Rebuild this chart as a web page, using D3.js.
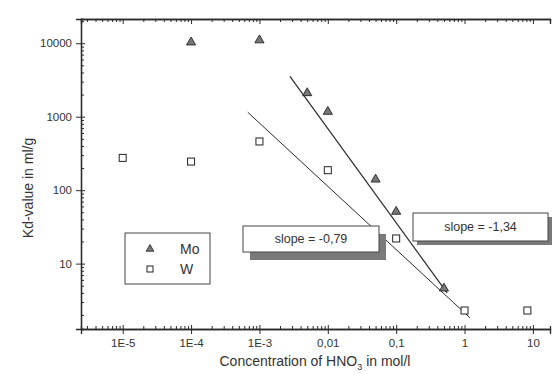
<!DOCTYPE html>
<html><head><meta charset="utf-8">
<script src="https://cdn.jsdelivr.net/npm/d3@7"></script>
<style>
html,body{margin:0;padding:0;background:#fff;}
svg{display:block;font-family:"Liberation Sans",Arial,sans-serif;}
</style></head>
<body>
<div id="chart"></div>
<script>
// ---- data ----
const moConc = [1e-4, 1e-3, 0.005, 0.01, 0.05, 0.1, 0.5];
const moKd   = [10300, 11000, 2100, 1170, 140, 51, 4.6];
const wConc  = [1e-5, 1e-4, 1e-3, 0.01, 0.1, 1, 8.3];
const wKd    = [275, 245, 460, 187, 22, 2.3, 2.3];
// fitted lines (endpoints)
const moFitConc = [0.00279, 0.555];
const moFitKd   = [3550, 4.0];
const wFitConc  = [6.76e-4, 1.2];
const wFitKd    = [1148, 1.83];
const xTickValues = [1e-5, 1e-4, 1e-3, 0.01, 0.1, 1, 10];
const xTickLabels = ["1E-5", "1E-4", "1E-3", "0,01", "0,1", "1", "10"];
const yTickValues = [10, 100, 1000, 10000];
const yTickLabels = ["10", "100", "1000", "10000"];
const legendLabels = ["Mo", "W"];
const slopeLabels = ["slope = -0,79", "slope = -1,34"];

const W = 553, H = 374;
const L = 81, R = 550, T = 19, B = 329;
const svg = d3.select("#chart").append("svg").attr("width", W).attr("height", H);

const x = d3.scaleLog().domain([Math.pow(10, -5.61), Math.pow(10, 1.25)]).range([L, R]);
const y = d3.scaleLog().domain([Math.pow(10, 0.11), Math.pow(10, 4.33)]).range([B, T]);

function minors(lo, hi) {
  const out = [];
  for (let e = lo; e <= hi; e++) for (let m = 2; m <= 9; m++) out.push(m * Math.pow(10, e));
  return out;
}
const xMin = minors(-6, 1).filter(v => v > x.domain()[0] && v < x.domain()[1]);
const yMin = minors(0, 4).filter(v => v > y.domain()[0] && v < y.domain()[1]);

const ink = "#2a2a2a";
function styleAxis(g) {
  g.selectAll("path.domain").attr("stroke", ink).attr("stroke-width", 1.3);
  g.selectAll(".tick line").attr("stroke", ink).attr("stroke-width", 1);
  g.selectAll(".tick text").attr("fill", "#333").style("font-size", "11.5px")
    .style("font-family", "'Liberation Sans',Arial,sans-serif");
}

// bottom axis
const gb = svg.append("g").attr("transform", `translate(0,${B})`)
  .call(d3.axisBottom(x).tickValues(xTickValues).tickSize(5).tickPadding(5)
    .tickFormat((d, i) => xTickLabels[i]));
styleAxis(gb);
const gbm = svg.append("g").attr("transform", `translate(0,${B})`)
  .call(d3.axisBottom(x).tickValues(xMin).tickSize(-3).tickFormat(""));
styleAxis(gbm);
gb.selectAll(".tick line").attr("y1", -4);

// top axis
const gt = svg.append("g").attr("transform", `translate(0,${T})`)
  .call(d3.axisTop(x).tickValues(xTickValues).tickSize(-5).tickFormat(""));
styleAxis(gt);
const gtm = svg.append("g").attr("transform", `translate(0,${T})`)
  .call(d3.axisTop(x).tickValues(xMin).tickSize(-3).tickFormat(""));
styleAxis(gtm);

// left axis
const gl = svg.append("g").attr("transform", `translate(${L},0)`)
  .call(d3.axisLeft(y).tickValues(yTickValues).tickSize(5).tickPadding(4)
    .tickFormat((d, i) => yTickLabels[i]));
styleAxis(gl);
gl.selectAll(".tick line").attr("x1", 4);
const glm = svg.append("g").attr("transform", `translate(${L},0)`)
  .call(d3.axisLeft(y).tickValues(yMin).tickSize(-3).tickFormat(""));
styleAxis(glm);

// fit lines
const line = d3.line().x(d => x(d[0])).y(d => y(d[1]));
svg.append("path").attr("d", line(wFitConc.map((c, i) => [c, wFitKd[i]])))
  .attr("fill", "none").attr("stroke", ink).attr("stroke-width", 1);
svg.append("path").attr("d", line(moFitConc.map((c, i) => [c, moFitKd[i]])))
  .attr("fill", "none").attr("stroke", ink).attr("stroke-width", 1.2);

// slope boxes
function slopeBox(x0, y0, w, h, dx, dy, txt) {
  const g = svg.append("g");
  g.append("rect").attr("x", x0 + dx).attr("y", y0 + dy).attr("width", w).attr("height", h)
    .attr("fill", "#7a7a7a");
  g.append("rect").attr("x", x0).attr("y", y0).attr("width", w).attr("height", h)
    .attr("fill", "#fff").attr("stroke", "#444").attr("stroke-width", 1);
  g.append("text").attr("x", x0 + w / 2).attr("y", y0 + h / 2).attr("dy", "0.35em")
    .attr("text-anchor", "middle").attr("fill", "#333").style("font-size", "12.5px")
    .text(txt);
}
slopeBox(243, 226, 136, 26, 7, 8, slopeLabels[0]);
slopeBox(413, 213, 135, 28, 4, 4, slopeLabels[1]);

// markers
const tri = d3.symbol().type(d3.symbolTriangle).size(36);
svg.append("g").selectAll("path").data(moConc.map((c, i) => [c, moKd[i]])).join("path")
  .attr("d", tri).attr("transform", d => `translate(${x(d[0])},${y(d[1])})`)
  .attr("fill", "#777").attr("stroke", "#222").attr("stroke-width", 0.9);
svg.append("g").selectAll("rect").data(wConc.map((c, i) => [c, wKd[i]])).join("rect")
  .attr("x", d => x(d[0]) - 3.5).attr("y", d => y(d[1]) - 3.5)
  .attr("width", 7).attr("height", 7)
  .attr("fill", "#fff").attr("stroke", "#222").attr("stroke-width", 1);

// legend
const lg = svg.append("g");
lg.append("rect").attr("x", 125).attr("y", 233).attr("width", 85).attr("height", 51)
  .attr("fill", "#fff").attr("stroke", "#444").attr("stroke-width", 1);
lg.append("path").attr("d", d3.symbol().type(d3.symbolTriangle).size(26))
  .attr("transform", "translate(150,249)").attr("fill", "#777").attr("stroke", "#222").attr("stroke-width", 0.8);
lg.append("rect").attr("x", 147).attr("y", 266).attr("width", 6).attr("height", 6)
  .attr("fill", "#fff").attr("stroke", "#222").attr("stroke-width", 1);
lg.selectAll("text").data(legendLabels).join("text")
  .attr("x", 180).attr("y", (d, i) => 249 + i * 20).attr("dy", "0.35em")
  .attr("fill", "#333").style("font-size", "14px").text(d => d);

// axis titles
const xt = svg.append("text").attr("x", 315).attr("y", 366).attr("text-anchor", "middle")
  .attr("fill", "#333").style("font-size", "14px");
xt.append("tspan").text("Concentration of HNO");
xt.append("tspan").attr("dy", 4).style("font-size", "9px").text("3");
xt.append("tspan").attr("dy", -4).text(" in mol/l");

svg.append("text").attr("transform", "translate(33,188) rotate(-90)")
  .attr("text-anchor", "middle").attr("fill", "#333").style("font-size", "14px")
  .text("Kd-value in ml/g");
</script>
</body></html>
